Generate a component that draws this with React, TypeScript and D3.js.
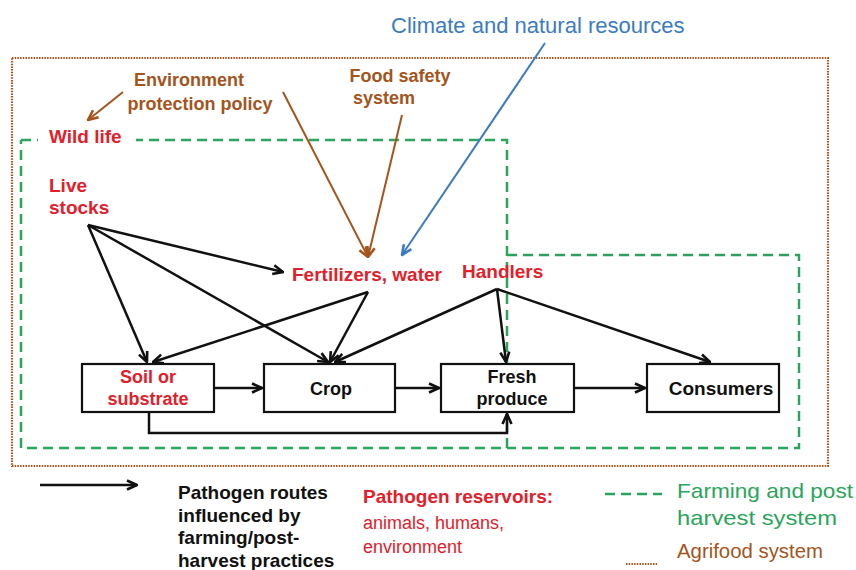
import React from "react";
import * as d3 from "d3";

// ---- Diagram data ----
const boxNames = ["Soil or|substrate", "Crop", "Fresh|produce", "Consumers"];
const boxColors = ["#e3202a", "#111", "#111", "#111"];
const boxLeft = [82, 264, 441, 647];
const boxRight = [214, 395, 574, 779];
const boxTextX = [148, 331, 512, 721];

const reservoirNames = ["Wild life", "Live|stocks", "Fertilizers, water", "Handlers"];
const reservoirX = [49, 49, 292, 462];
const reservoirY = [143, 192, 281, 278];

// route edges: [x1, y1, x2, y2]
const routeEdges: number[][] = [
  [88, 225, 283, 272],
  [88, 225, 147, 362],
  [88, 225, 328, 362],
  [368, 292, 153, 362],
  [368, 292, 330, 362],
  [497, 289, 335, 362],
  [497, 289, 506, 362],
  [497, 289, 710, 362],
  [214, 388, 262, 388],
  [395, 388, 439, 388],
  [574, 388, 645, 388],
];
const soilToFresh: [number, number][] = [
  [149, 412],
  [149, 433],
  [507, 433],
  [507, 414],
];

const policyEdges: number[][] = [
  [123, 92, 88, 120],
  [283, 92, 368, 257],
  [402, 115, 368, 257],
];
const climateEdge = [545, 43, 402, 255];

const legendRoutes = ["Pathogen routes", "influenced by", "farming/post-", "harvest practices"];

const BROWN = "#a5541c";
const RED = "#e3202a";
const BLUE = "#3b7cc0";
const GREEN = "#2aa55a";
const FONT = "'Liberation Sans', Arial, Helvetica, sans-serif";

const line = d3.line<[number, number]>().x((d) => d[0]).y((d) => d[1]);

function Arrow({ id, color, size = 11 }: { id: string; color: string; size?: number }) {
  return (
    <marker
      id={id}
      viewBox="0 0 12 12"
      refX={11}
      refY={6}
      markerWidth={size}
      markerHeight={size}
      markerUnits="userSpaceOnUse"
      orient="auto"
    >
      <path d="M1,1.5 L11,6 L1,10.5" fill="none" stroke={color} strokeWidth={2.6} strokeLinejoin="miter" />
    </marker>
  );
}

export default function App() {
  return (
    <div style={{ position: "absolute", left: 0, top: 0 }}>
      <svg width={856} height={570} style={{ display: "block", background: "#fff" }} fontFamily={FONT}>
        <defs>
          <Arrow id="ab" color="#111" size={12} />
          <Arrow id="abr" color={BROWN} size={12} />
          <Arrow id="abl" color={BLUE} size={12} />
        </defs>

        {/* Agrifood system outline */}
        <rect x={12} y={58} width={816} height={408} fill="none" stroke={BROWN} strokeWidth={2.2} strokeDasharray="1.5,1.2" />

        {/* Farming and post harvest system outline */}
        <path d={line([[21, 140], [507, 140], [507, 448], [21, 448], [21, 140]]) || ""} fill="none" stroke={GREEN} strokeWidth={2.5} strokeDasharray="10,6" />
        <path d={line([[507, 255], [799, 255], [799, 448], [507, 448]]) || ""} fill="none" stroke={GREEN} strokeWidth={2.5} strokeDasharray="10,6" />

        {/* Title */}
        <text x={391} y={33} fontSize={22} fill={BLUE}>Climate and natural resources</text>

        {/* Policy labels */}
        <g fontWeight="bold" fontSize={18} fill={BROWN} textAnchor="middle">
          <text x={189} y={86}>Environment</text>
          <text x={200} y={110}>protection policy</text>
          <text x={400} y={82}>Food safety</text>
          <text x={384} y={104}>system</text>
        </g>

        {/* Policy & climate arrows */}
        {policyEdges.map((e, i) => (
          <line key={"p" + i} x1={e[0]} y1={e[1]} x2={e[2]} y2={e[3]} stroke={BROWN} strokeWidth={2} markerEnd="url(#abr)" />
        ))}
        <line x1={climateEdge[0]} y1={climateEdge[1]} x2={climateEdge[2]} y2={climateEdge[3]} stroke={BLUE} strokeWidth={2} markerEnd="url(#abl)" />

        {/* Reservoir labels */}
        <rect x={38} y={128} width={98} height={20} fill="#fff" />
        <g fontWeight="bold" fontSize={19} fill={RED}>
          {reservoirNames.map((n, i) =>
            n.split("|").map((t, j) => (
              <text key={n + j} x={reservoirX[i]} y={reservoirY[i] + j * 22}>{t}</text>
            ))
          )}
        </g>

        {/* Route arrows */}
        {routeEdges.map((e, i) => (
          <line key={"r" + i} x1={e[0]} y1={e[1]} x2={e[2]} y2={e[3]} stroke="#111" strokeWidth={2.5} markerEnd="url(#ab)" />
        ))}
        <path d={line(soilToFresh) || ""} fill="none" stroke="#111" strokeWidth={2.5} markerEnd="url(#ab)" />

        {/* Boxes */}
        {boxNames.map((n, i) => (
          <g key={n}>
            <rect x={boxLeft[i]} y={364} width={boxRight[i] - boxLeft[i]} height={48} fill="#fff" stroke="#111" strokeWidth={2.2} />
            {n.split("|").map((t, j, arr) => (
              <text
                key={t}
                x={boxTextX[i]}
                y={arr.length === 1 ? 395 : 383 + j * 22}
                textAnchor="middle"
                fontWeight="bold"
                fontSize={i === 3 ? 19 : 18}
                fill={boxColors[i]}
              >
                {t}
              </text>
            ))}
          </g>
        ))}

        {/* Legend */}
        <line x1={40} y1={485} x2={137} y2={485} stroke="#111" strokeWidth={2.5} markerEnd="url(#ab)" />
        <g fontWeight="bold" fontSize={19} fill="#111">
          {legendRoutes.map((t, i) => (
            <text key={t} x={178} y={499 + i * 22.5}>{t}</text>
          ))}
        </g>
        <text x={363} y={503} fontWeight="bold" fontSize={19} fill={RED}>Pathogen reservoirs:</text>
        <text x={363} y={529} fontSize={18} fill={RED}>animals, humans,</text>
        <text x={363} y={553} fontSize={18} fill={RED}>environment</text>

        <line x1={605} y1={494} x2={662} y2={494} stroke={GREEN} strokeWidth={2.5} strokeDasharray="10,6" />
        <text x={677} y={498} fontSize={21} fill={GREEN} textLength={176} lengthAdjust="spacingAndGlyphs">Farming and post</text>
        <text x={677} y={525} fontSize={21} fill={GREEN} textLength={160} lengthAdjust="spacingAndGlyphs">harvest system</text>
        <line x1={626} y1={564} x2={657} y2={564} stroke={BROWN} strokeWidth={2.2} strokeDasharray="1.5,1.2" />
        <text x={677} y={558} fontSize={20} fill={BROWN} textLength={146} lengthAdjust="spacingAndGlyphs">Agrifood system</text>
      </svg>
    </div>
  );
}
